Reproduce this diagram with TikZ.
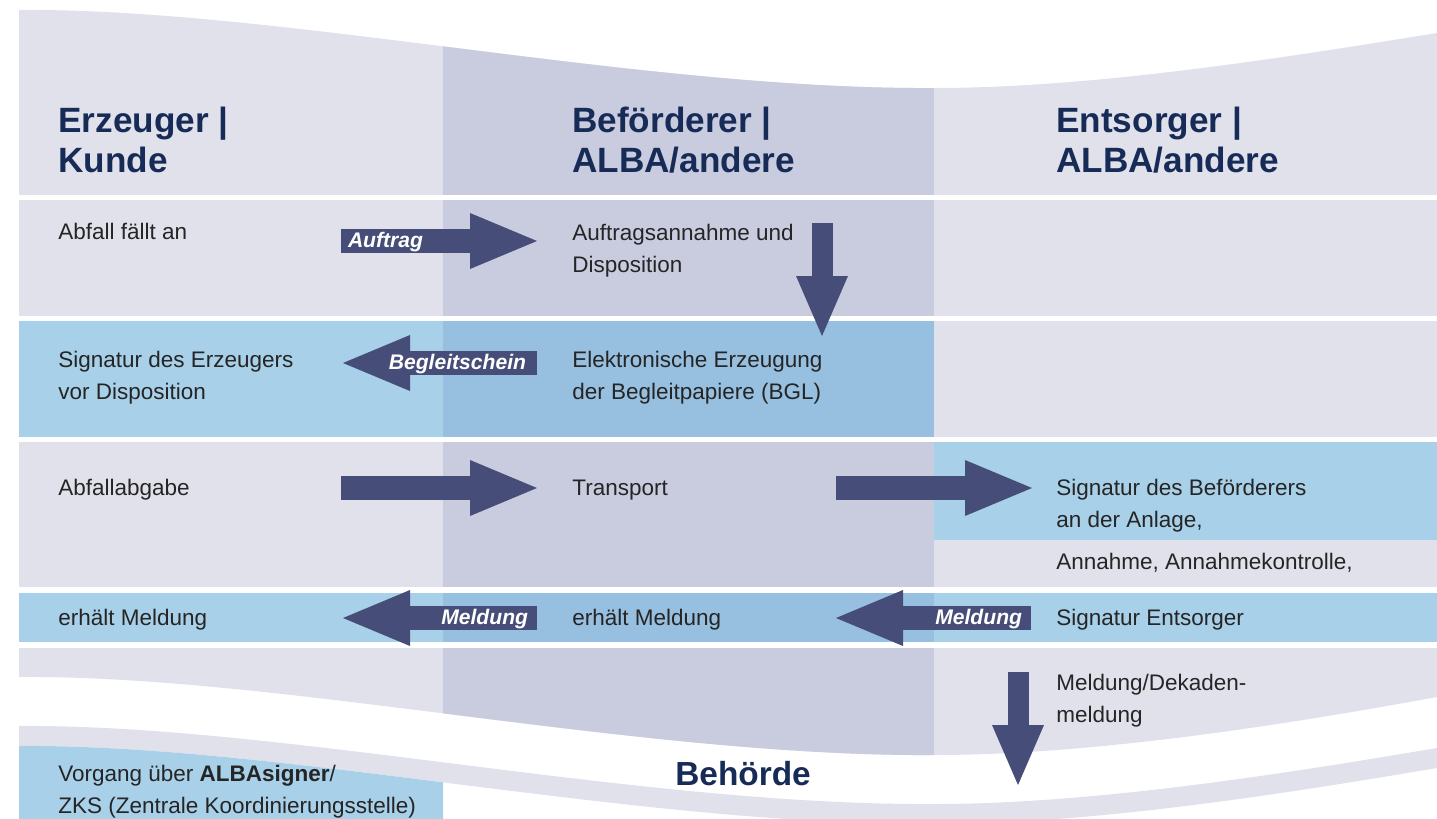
\documentclass[tikz,border=0pt]{standalone}
\usepackage{fontspec}
\setmainfont{Liberation Sans}
\usetikzlibrary{arrows.meta}

\definecolor{lanegrey}{HTML}{E1E1EC}
\definecolor{lanemid}{HTML}{C9CCDF}
\definecolor{laneblue}{HTML}{A8D0E8}
\definecolor{laneblue2}{HTML}{97BFE0}
\definecolor{arrowblue}{HTML}{464D78}
\definecolor{headnavy}{HTML}{172B57}
\definecolor{bodytext}{HTML}{252525}

\tikzset{
  cell/.style={anchor=base west,inner sep=0pt,align=left,text=bodytext,
    font=\fontsize{12.8}{18.2}\selectfont},
  lanehead/.style={anchor=base west,inner sep=0pt,align=left,text=headnavy,
    font=\bfseries\fontsize{20}{22.2}\selectfont},
  flowarrow/.style={arrowblue,line width=4.8mm,
    -{Triangle[length=13.4mm,width=11.2mm,line width=0pt]}},
  droparrow/.style={arrowblue,line width=4.2mm,
    -{Triangle[length=12mm,width=10.4mm,line width=0pt]}},
  arrowtag/.style={inner sep=0pt,outer sep=0pt,text=white,
    font=\bfseries\itshape\fontsize{12}{14}\selectfont},
}

\begin{document}
\begin{tikzpicture}[x=0.2mm,y=-0.2mm]
  \useasboundingbox (0,0) rectangle (1437,818);

  % header under the upper wave
  \begin{scope}
    \clip (19,195) -- (19,10) .. controls (280,8) and (640,90) .. (935,88)
      .. controls (1100,88) and (1300,55) .. (1437,33) -- (1437,195) -- cycle;
    \fill[lanegrey] (19,0) rectangle (1437,195);
    \fill[lanemid] (443,0) rectangle (934,195);
  \end{scope}

  % swim lane rows
  \foreach \ytop/\ybot/\ca/\cb/\cc in {200/316/lanegrey/lanemid/lanegrey,
      321/437/laneblue/laneblue2/lanegrey,442/587/lanegrey/lanemid/laneblue,
      593/642/laneblue/laneblue2/laneblue}{
    \fill[\ca] (19,\ytop) rectangle (443,\ybot);
    \fill[\cb] (443,\ytop) rectangle (934,\ybot);
    \fill[\cc] (934,\ytop) rectangle (1437,\ybot);
  }
  \fill[lanegrey] (934,540) rectangle (1437,587);

  % last row with lower wave
  \begin{scope}
    \clip (19,648) -- (19,677) .. controls (280,675) and (640,757) .. (935,755)
      .. controls (1100,755) and (1300,722) .. (1437,697) -- (1437,648) -- cycle;
    \fill[lanegrey] (19,648) rectangle (1437,770);
    \fill[lanemid] (443,648) rectangle (934,770);
  \end{scope}

  % authority band
  \fill[lanegrey] (19,726) .. controls (280,724) and (640,806) .. (935,804)
    .. controls (1100,804) and (1300,771) .. (1437,748) -- (1437,768)
    .. controls (1300,791) and (1100,824) .. (935,824)
    .. controls (640,826) and (280,744) .. (19,746) -- cycle;
  \begin{scope}
    \clip (19,700) rectangle (443,818);
    \fill[laneblue] (19,746) .. controls (280,744) and (640,826) .. (935,824)
      -- (935,830) -- (19,830) -- cycle;
  \end{scope}

  % lane heads (base = last line)
  \node[lanehead] (erzeuger) at (58,172) {Erzeuger |\\Kunde};
  \node[lanehead] (befoerderer) at (572,172) {Beförderer |\\ALBA/andere};
  \node[lanehead] (entsorger) at (1056,172) {Entsorger |\\ALBA/andere};

  % steps
  \node[cell] (anfall) at (58,239) {Abfall fällt an};
  \node[cell] (annahme) at (572,272) {Auftragsannahme und\\Disposition};
  \node[cell] (sigerz) at (58,399) {Signatur des Erzeugers\\vor Disposition};
  \node[cell] (bgl) at (572,399) {Elektronische Erzeugung\\der Begleitpapiere (BGL)};
  \node[cell] (abgabe) at (58,495) {Abfallabgabe};
  \node[cell] (transport) at (572,495) {Transport};
  \node[cell] (sigbef) at (1056,527) {Signatur des Beförderers\\an der Anlage,};
  \node[cell] (kontrolle) at (1056,569) {Annahme, Annahmekontrolle,};
  \node[cell] (erhalt1) at (58,625) {erhält Meldung};
  \node[cell] (erhalt2) at (572,625) {erhält Meldung};
  \node[cell] (sigent) at (1056,625) {Signatur Entsorger};
  \node[cell] (dekade) at (1056,722) {Meldung/Dekaden-\\meldung};
  \node[cell] (zks) at (58,813) {Vorgang über \textbf{ALBAsigner}/\\ZKS (Zentrale Koordinierungsstelle)};
  \node[lanehead,font=\bfseries\fontsize{19}{22}\selectfont] (behoerde) at (675,785) {Behörde};

  % arrow ends
  \coordinate (auftrag-a) at (341,241);
  \coordinate (auftrag-b) at (537,241);
  \coordinate (dispo-a) at (822,223);
  \coordinate (dispo-b) at (822,336);
  \coordinate (begleit-a) at (537,363);
  \coordinate (begleit-b) at (343,363);
  \coordinate (abgabe-a) at (341,488);
  \coordinate (abgabe-b) at (537,488);
  \coordinate (transport-a) at (836,488);
  \coordinate (transport-b) at (1032,488);
  \coordinate (meld1-a) at (537,618);
  \coordinate (meld1-b) at (343,618);
  \coordinate (meld2-a) at (1031,618);
  \coordinate (meld2-b) at (836,618);
  \coordinate (dekade-a) at (1018,672);
  \coordinate (dekade-b) at (1018,785);

  \draw[flowarrow] (auftrag-a) -- (auftrag-b)
    node[arrowtag,pos=0,anchor=base west,xshift=1.4mm,yshift=-1.2mm] {Auftrag};
  \draw[droparrow] (dispo-a) -- (dispo-b);
  \draw[flowarrow] (begleit-a) -- (begleit-b)
    node[arrowtag,pos=0,anchor=base east,xshift=-2.2mm,yshift=-1.2mm] {Begleitschein};
  \draw[flowarrow] (abgabe-a) -- (abgabe-b);
  \draw[flowarrow] (transport-a) -- (transport-b);
  \draw[flowarrow] (meld1-a) -- (meld1-b)
    node[arrowtag,pos=0,anchor=base east,xshift=-1.8mm,yshift=-1.2mm] {Meldung};
  \draw[flowarrow] (meld2-a) -- (meld2-b)
    node[arrowtag,pos=0,anchor=base east,xshift=-1.8mm,yshift=-1.2mm] {Meldung};
  \draw[droparrow] (dekade-a) -- (dekade-b);
\end{tikzpicture}
\end{document}
